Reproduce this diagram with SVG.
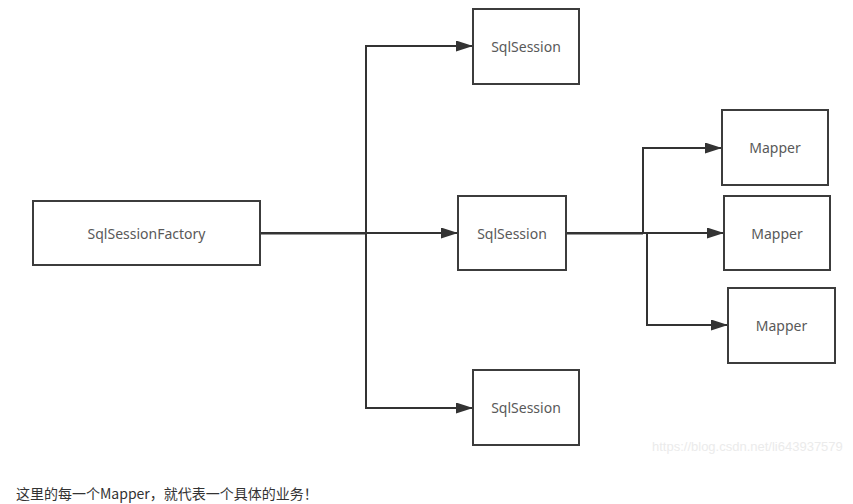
<svg xmlns="http://www.w3.org/2000/svg" width="853" height="504" viewBox="0 0 853 504">
  <style>
    .box { fill: #ffffff; stroke: #3c3c3c; stroke-width: 2; }
    .lbl { font-family: "Noto Sans", "Liberation Sans", sans-serif; font-size: 14px; fill: #595959; text-anchor: middle; dominant-baseline: central; }
    .conn { fill: none; stroke: #333333; stroke-width: 2; }
    .note { font-family: "Noto Sans CJK SC", "Noto Sans", sans-serif; font-size: 14px; fill: #333333; }
    .wm { font-family: "Liberation Sans", Arial, sans-serif; font-size: 13px; fill: #ebebeb; }
  </style>
  <defs>
    <marker id="arr" markerUnits="userSpaceOnUse" markerWidth="17" markerHeight="11" refX="17" refY="5.5" orient="auto">
      <path d="M0,0 L17,5.5 L0,11 z" fill="#333333"/>
    </marker>
  </defs>
  <rect width="853" height="504" fill="#ffffff"/>

  <g id="connectors">
    <path class="conn" d="M260,233 H366 V46 H473" marker-end="url(#arr)"/>
    <path class="conn" d="M260,233 H458" marker-end="url(#arr)"/>
    <path class="conn" d="M260,233 H366 V408 H473" marker-end="url(#arr)"/>
    <path class="conn" d="M260,233.5 H366"/>
    <path class="conn" d="M566,233 H643 V148 H722" marker-end="url(#arr)"/>
    <path class="conn" d="M566,233 H724" marker-end="url(#arr)"/>
    <path class="conn" d="M566,233 H647 V325 H728" marker-end="url(#arr)"/>
    <path class="conn" d="M566,233.5 H643"/>
  </g>

  <g id="factory">
    <rect class="box" x="33" y="201" width="227" height="64"/>
    <text class="lbl" x="146.5" y="233">SqlSessionFactory</text>
  </g>
  <g id="session-top">
    <rect class="box" x="473" y="9" width="106" height="75"/>
    <text class="lbl" x="526" y="46.5">SqlSession</text>
  </g>
  <g id="session-mid">
    <rect class="box" x="458" y="196" width="108" height="74"/>
    <text class="lbl" x="512" y="233">SqlSession</text>
  </g>
  <g id="session-bottom">
    <rect class="box" x="473" y="370" width="106" height="75"/>
    <text class="lbl" x="526" y="407.5">SqlSession</text>
  </g>
  <g id="mapper-1">
    <rect class="box" x="722" y="110" width="106" height="75"/>
    <text class="lbl" x="775" y="147.5">Mapper</text>
  </g>
  <g id="mapper-2">
    <rect class="box" x="724" y="196" width="106" height="74"/>
    <text class="lbl" x="777" y="233">Mapper</text>
  </g>
  <g id="mapper-3">
    <rect class="box" x="728" y="288" width="107" height="75"/>
    <text class="lbl" x="781.5" y="325.5">Mapper</text>
  </g>

  <text class="wm" x="652" y="451">https://blog.csdn.net/li643937579</text>
  <text class="note" x="16" y="499">这里的每一个Mapper，就代表一个具体的业务！</text>
</svg>
